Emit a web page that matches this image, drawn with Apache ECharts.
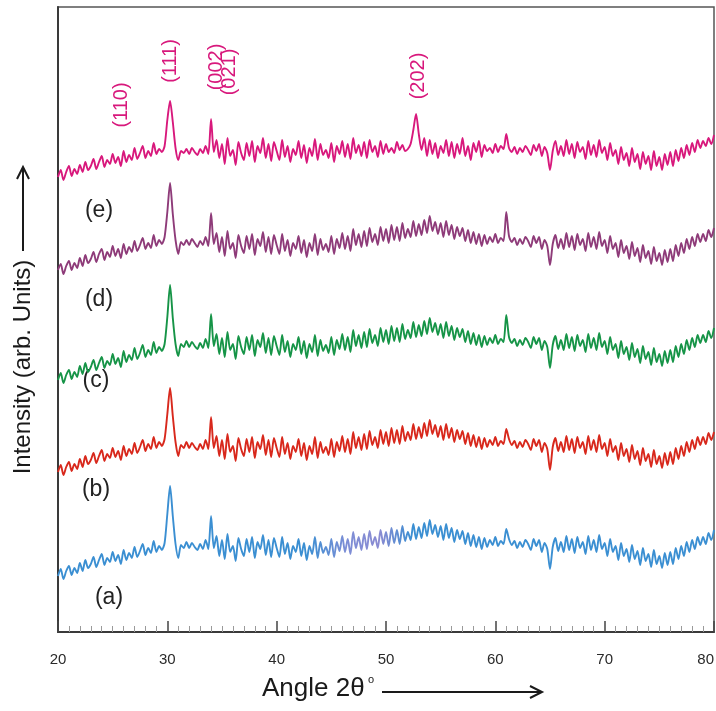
<!DOCTYPE html>
<html>
<head>
<meta charset="utf-8">
<script src="https://cdn.jsdelivr.net/npm/echarts@6/dist/echarts.min.js"></script>
<style>
  html, body { margin: 0; padding: 0; background: #ffffff; }
  #chart { width: 716px; height: 711px; }
</style>
</head>
<body>
<div id="chart"></div>
<script>
// XRD patterns, 2θ from 20° to 80° sampled every 0.25°; each pattern is stacked with its own offset.
const angleStart = 20;
const angleStep = 0.25;
const xTicks = [20, 30, 40, 50, 60, 70, 80];

const patternA = [
  56, 63, 53, 61, 66, 57, 64, 59, 69, 61, 72, 64, 68, 75, 65, 72, 78, 67, 74, 70,
  80, 71, 77, 68, 82, 72, 79, 74, 85, 75, 81, 88, 77, 84, 79, 91, 80, 86, 82, 89,
  118, 146, 116, 88, 74, 87, 84, 90, 84, 89, 85, 82, 88, 83, 92, 83, 116, 84, 96, 76,
  92, 73, 98, 80, 86, 71, 94, 83, 76, 93, 80, 95, 74, 90, 83, 97, 77, 92, 75, 94,
  84, 75, 95, 78, 89, 73, 86, 80, 93, 76, 89, 72, 86, 78, 95, 74, 90, 79, 85, 77,
  93, 75, 90, 81, 96, 80, 93, 78, 100, 84, 95, 82, 98, 83, 101, 87, 95, 84, 102, 88,
  100, 86, 104, 89, 102, 88, 106, 91, 100, 92, 108, 93, 105, 94, 109, 96, 112, 98, 107, 95,
  106, 92, 108, 94, 104, 90, 102, 93, 101, 88, 99, 86, 97, 85, 95, 83, 94, 85, 92, 87,
  95, 86, 91, 88, 103, 93, 87, 91, 84, 90, 85, 92, 88, 82, 93, 86, 92, 80, 89, 83,
  63, 85, 94, 81, 90, 80, 96, 82, 93, 79, 95, 84, 90, 78, 96, 82, 92, 80, 97, 83,
  89, 76, 93, 80, 86, 72, 89, 76, 83, 70, 87, 73, 81, 67, 84, 71, 78, 65, 82, 68,
  76, 64, 79, 67, 80, 68, 84, 73, 86, 76, 90, 80, 92, 83, 95, 87, 95, 88, 99, 92,
  102
];

const patternB = [
  160, 167, 157, 165, 170, 161, 168, 163, 173, 165, 176, 168, 172, 179, 169, 176, 182, 171, 178, 174,
  184, 175, 181, 172, 186, 176, 183, 178, 189, 179, 185, 192, 181, 188, 183, 195, 184, 190, 186, 193,
  218, 244, 216, 190, 176, 187, 184, 190, 184, 189, 185, 182, 188, 183, 192, 183, 215, 184, 196, 176,
  192, 173, 198, 180, 186, 171, 194, 183, 176, 193, 180, 195, 174, 190, 183, 197, 177, 192, 175, 194,
  184, 175, 195, 178, 189, 173, 186, 180, 193, 176, 189, 172, 186, 178, 195, 174, 190, 179, 185, 177,
  193, 175, 190, 181, 196, 180, 193, 178, 200, 184, 195, 182, 198, 183, 201, 187, 195, 184, 202, 188,
  200, 186, 204, 189, 202, 188, 206, 191, 200, 192, 208, 193, 205, 194, 209, 196, 212, 198, 207, 195,
  206, 192, 208, 194, 204, 190, 202, 193, 201, 188, 199, 186, 197, 185, 195, 183, 194, 185, 192, 187,
  195, 186, 191, 188, 203, 193, 187, 191, 184, 190, 185, 192, 188, 182, 193, 186, 192, 180, 189, 183,
  162, 185, 194, 181, 190, 180, 196, 182, 193, 179, 195, 184, 190, 178, 196, 182, 192, 180, 197, 183,
  189, 176, 193, 180, 186, 172, 189, 176, 183, 170, 187, 173, 181, 167, 184, 171, 178, 165, 182, 168,
  176, 164, 179, 167, 180, 168, 184, 173, 186, 176, 190, 180, 192, 183, 195, 187, 195, 188, 199, 192,
  200
];

const patternC = [
  252, 259, 249, 257, 262, 253, 260, 255, 266, 258, 269, 260, 265, 272, 262, 269, 275, 264, 271, 267,
  278, 268, 274, 265, 281, 270, 277, 272, 284, 273, 279, 287, 275, 282, 277, 290, 279, 285, 281, 288,
  315, 347, 314, 288, 276, 288, 285, 291, 285, 290, 286, 283, 289, 284, 293, 284, 318, 286, 298, 278,
  294, 275, 300, 282, 288, 273, 296, 285, 278, 295, 282, 297, 276, 292, 285, 299, 279, 294, 277, 296,
  286, 277, 297, 280, 291, 275, 288, 282, 295, 278, 291, 274, 288, 280, 297, 276, 292, 281, 287, 279,
  295, 277, 292, 283, 298, 282, 295, 280, 302, 286, 297, 284, 300, 285, 303, 289, 297, 286, 304, 290,
  302, 288, 306, 291, 304, 290, 308, 293, 302, 294, 310, 295, 307, 296, 311, 298, 314, 300, 309, 297,
  308, 294, 310, 296, 306, 292, 304, 295, 303, 290, 301, 288, 299, 287, 297, 285, 296, 287, 294, 289,
  297, 288, 293, 290, 317, 295, 289, 293, 286, 292, 287, 294, 290, 284, 295, 288, 294, 282, 291, 285,
  264, 287, 296, 283, 292, 282, 298, 284, 295, 281, 297, 286, 292, 280, 298, 284, 294, 282, 299, 285,
  291, 278, 295, 282, 288, 274, 291, 278, 285, 272, 289, 275, 283, 269, 286, 273, 280, 267, 284, 270,
  278, 266, 281, 269, 282, 270, 286, 275, 288, 278, 292, 282, 294, 285, 297, 289, 297, 290, 301, 294,
  304
];

const patternD = [
  362, 368, 358, 366, 371, 362, 369, 364, 374, 366, 377, 369, 373, 380, 370, 378, 383, 372, 380, 375,
  386, 376, 383, 374, 388, 378, 385, 380, 391, 381, 387, 394, 383, 389, 384, 397, 386, 392, 388, 395,
  420, 449, 418, 392, 378, 390, 387, 392, 387, 393, 389, 385, 391, 387, 395, 386, 419, 388, 399, 380,
  395, 376, 401, 383, 389, 374, 397, 386, 379, 396, 383, 398, 377, 393, 386, 400, 380, 395, 378, 397,
  387, 378, 398, 381, 392, 376, 389, 383, 396, 379, 392, 375, 389, 381, 398, 377, 393, 382, 388, 380,
  396, 378, 393, 384, 399, 383, 396, 381, 403, 387, 398, 385, 401, 386, 404, 390, 398, 387, 405, 391,
  403, 389, 407, 392, 405, 391, 409, 394, 403, 395, 411, 396, 408, 397, 412, 399, 416, 401, 410, 398,
  409, 395, 411, 397, 407, 393, 405, 396, 404, 391, 402, 389, 400, 388, 398, 386, 397, 388, 395, 390,
  398, 389, 394, 391, 420, 396, 390, 394, 387, 393, 388, 395, 391, 385, 396, 389, 395, 383, 392, 386,
  367, 388, 397, 384, 393, 383, 399, 385, 396, 382, 398, 387, 393, 381, 399, 385, 395, 383, 400, 386,
  392, 379, 396, 383, 389, 375, 392, 379, 386, 373, 390, 376, 384, 370, 387, 374, 381, 368, 385, 371,
  379, 367, 382, 370, 383, 371, 387, 376, 389, 379, 393, 383, 395, 386, 398, 390, 398, 391, 402, 395,
  404
];

const patternE = [
  455, 462, 452, 460, 466, 456, 463, 458, 467, 460, 470, 462, 466, 473, 463, 470, 476, 465, 472, 468,
  478, 469, 475, 466, 481, 470, 477, 472, 484, 473, 479, 486, 474, 481, 476, 489, 478, 483, 480, 486,
  512, 531, 510, 484, 472, 481, 479, 483, 478, 484, 480, 477, 483, 479, 486, 478, 513, 480, 492, 474,
  488, 468, 494, 476, 482, 467, 490, 479, 472, 489, 476, 491, 470, 486, 479, 494, 474, 488, 471, 490,
  481, 472, 492, 475, 486, 470, 483, 477, 491, 474, 487, 469, 484, 476, 493, 472, 488, 477, 482, 474,
  489, 470, 486, 478, 491, 475, 488, 473, 494, 479, 487, 476, 490, 474, 492, 480, 486, 475, 491, 478,
  488, 480, 484, 479, 490, 482, 487, 481, 483, 488, 502, 518, 498, 482, 494, 476, 492, 478, 489, 474,
  486, 479, 492, 476, 490, 474, 488, 478, 494, 476, 486, 472, 489, 480, 491, 475, 487, 481, 484, 479,
  488, 480, 486, 483, 498, 484, 480, 485, 478, 484, 480, 486, 482, 477, 487, 481, 488, 476, 485, 479,
  462, 481, 491, 477, 486, 476, 492, 478, 488, 474, 490, 480, 485, 473, 491, 477, 487, 475, 492, 479,
  485, 472, 489, 476, 482, 468, 485, 472, 479, 466, 484, 470, 478, 463, 480, 468, 476, 462, 481, 466,
  475, 462, 478, 467, 480, 466, 482, 471, 484, 474, 487, 477, 489, 480, 492, 484, 491, 486, 494, 488,
  497
];

const patternNames = ['(a)', '(b)', '(c)', '(d)', '(e)'];
const patternColors = ['#3b8fd2', '#d8281c', '#169447', '#8e3b79', '#d8187c'];
const patterns = [patternA, patternB, patternC, patternD, patternE];

// Miller indices marked above the top pattern
const reflectionLabels = ['(110)', '(111)', '(002)', '(021)', '(202)'];

function toPoints(values) {
  return values.map((v, i) => [angleStart + i * angleStep, v]);
}

const chart = echarts.init(document.getElementById('chart'), null, { renderer: 'canvas' });

// pattern (a) shifts slightly toward lavender over the middle of the scan
const patternAStroke = new echarts.graphic.LinearGradient(0, 0, 1, 0, [
  { offset: 0, color: '#3b8fd2' },
  { offset: 0.38, color: '#3b8fd2' },
  { offset: 0.44, color: '#7d8ed6' },
  { offset: 0.49, color: '#8a8bd2' },
  { offset: 0.54, color: '#3b8fd2' },
  { offset: 1, color: '#3b8fd2' }
]);

const series = patterns.map((vals, k) => ({
  name: patternNames[k],
  type: 'line',
  data: toPoints(vals),
  showSymbol: false,
  smooth: 0.25,
  lineStyle: { color: k === 0 ? patternAStroke : patternColors[k], width: 1.9 },
  itemStyle: { color: patternColors[k] },
  animation: false,
  z: 3
}));

const fontMain = 'Liberation Sans, Arial, sans-serif';
const labelColor = '#222222';
const hklColor = '#d8187c';

function sampleLabel(text, x, y) {
  return { type: 'text', x: x, y: y, style: { text: text, font: '23px ' + fontMain, fill: labelColor, align: 'center', verticalAlign: 'middle' } };
}
function hklLabel(text, x, y) {
  return { type: 'text', x: x, y: y, rotation: Math.PI / 2, style: { text: text, font: '20px ' + fontMain, fill: hklColor, align: 'center', verticalAlign: 'middle' } };
}

const graphics = [
  // x axis title with arrow
  { type: 'text', left: 262, top: 676, style: { text: 'Angle 2θ', font: '26px ' + fontMain, fill: '#1a1a1a' } },
  { type: 'text', left: 368, top: 674, style: { text: 'o', font: '11px ' + fontMain, fill: '#1a1a1a' } },
  { type: 'line', shape: { x1: 382, y1: 692, x2: 541, y2: 692 }, style: { stroke: '#1a1a1a', lineWidth: 2 } },
  { type: 'polyline', shape: { points: [[530, 686], [542, 692], [530, 698]] }, style: { stroke: '#1a1a1a', lineWidth: 2, fill: null } },
  // y axis title with arrow
  { type: 'text', x: 23, y: 367, rotation: Math.PI / 2, style: { text: 'Intensity (arb. Units)', font: '24px ' + fontMain, fill: '#1a1a1a', align: 'center', verticalAlign: 'middle' } },
  { type: 'line', shape: { x1: 23, y1: 251, x2: 23, y2: 168 }, style: { stroke: '#1a1a1a', lineWidth: 2 } },
  { type: 'polyline', shape: { points: [[17, 179], [23, 167], [29, 179]] }, style: { stroke: '#1a1a1a', lineWidth: 2, fill: null } },
  // pattern labels
  sampleLabel(patternNames[4], 99, 211),
  sampleLabel(patternNames[3], 99, 300),
  sampleLabel(patternNames[2], 96, 381),
  sampleLabel(patternNames[1], 96, 490),
  sampleLabel(patternNames[0], 109, 598),
  // reflection indices
  hklLabel(reflectionLabels[0], 121, 105),
  hklLabel(reflectionLabels[1], 170, 61),
  hklLabel(reflectionLabels[2], 216, 67),
  hklLabel(reflectionLabels[3], 229, 72),
  hklLabel(reflectionLabels[4], 418, 76)
];

chart.setOption({
  backgroundColor: '#ffffff',
  animation: false,
  grid: {
    left: 58, right: 2, top: 7, bottom: 79,
    containLabel: false,
    outerBoundsMode: 'none',
    show: true, borderColor: '#555555', borderWidth: 1.5, backgroundColor: 'transparent'
  },
  xAxis: {
    type: 'value',
    min: xTicks[0],
    max: xTicks[xTicks.length - 1],
    interval: 10,
    axisLine: { show: true, lineStyle: { color: '#3a3a3a', width: 2 } },
    axisTick: { show: true, inside: true, length: 11, lineStyle: { color: '#444444', width: 1.5 } },
    minorTick: { show: true, splitNumber: 10, length: 6, lineStyle: { color: '#9a9a9a', width: 1 } },
    splitLine: { show: false },
    axisLabel: {
      margin: 20,
      alignMaxLabel: 'right',
      fontFamily: 'Liberation Sans Narrow, Liberation Sans, Arial, sans-serif',
      fontSize: 15,
      color: '#2a2a2a'
    }
  },
  yAxis: {
    type: 'value',
    min: 0,
    max: 625,
    axisLine: { show: true, lineStyle: { color: '#3a3a3a', width: 2 } },
    axisTick: { show: false },
    axisLabel: { show: false },
    splitLine: { show: false }
  },
  series: series,
  graphic: graphics
});
</script>
</body>
</html>
